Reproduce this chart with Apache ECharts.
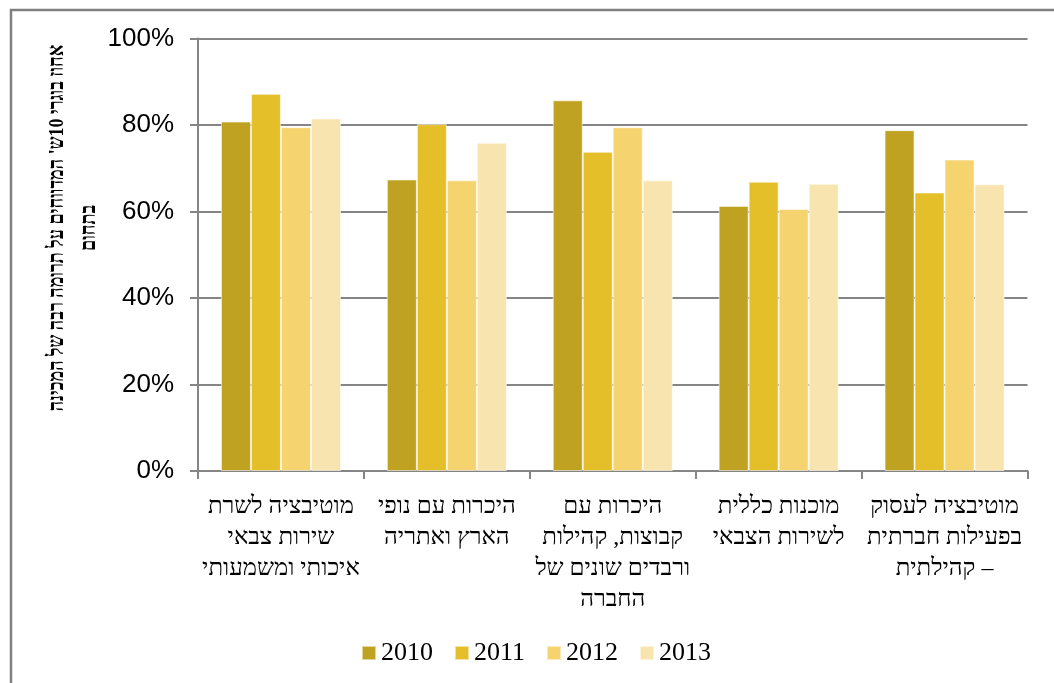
<!DOCTYPE html>
<html>
<head>
<meta charset="utf-8">
<script src="https://cdn.jsdelivr.net/npm/echarts@6/dist/echarts.min.js"></script>
<style>
html,body{margin:0;padding:0;background:#fff;}
#chart{width:1054px;height:683px;}
</style>
</head>
<body>
<div id="chart"></div>
<script>
const categories = [
  'מוטיבציה לשרת\nשירות צבאי\nאיכותי ומשמעותי',
  'היכרות עם נופי\nהארץ ואתריה',
  'היכרות עם\nקבוצות, קהילות\nורבדים שונים של\nהחברה',
  'מוכנות כללית\nלשירות הצבאי',
  'מוטיבציה לעסוק\nבפעילות חברתית\nקהילתית –'
];
const years = ['2010', '2011', '2012', '2013'];
const s2010 = [80.8, 67.4, 85.7, 61.3, 78.8];
const s2011 = [87.2, 80.2, 73.8, 66.9, 64.4];
const s2012 = [79.5, 67.2, 79.5, 60.6, 72.0];
const s2013 = [81.5, 75.9, 67.2, 66.4, 66.3];
const yMin = 0, yMax = 100, yStep = 20;
const yTitle = "אחוז בוגרי 10ש' המדווחים על תרומה רבה של המכינה\nבתחום";

const colors = ['#C0A223', '#E5BF2A', '#F5D36E', '#F8E4AE'];
const seriesData = [s2010, s2011, s2012, s2013];

const chart = echarts.init(document.getElementById('chart'), null, {renderer: 'canvas'});
const gridColor = '#858585';
chart.setOption({
  animation: false,
  backgroundColor: '#ffffff',
  color: colors,
  grid: {left: 198, right: 26.5, top: 38.5, bottom: 212, containLabel: false},
  legend: {
    data: years,
    left: 356,
    top: 635,
    icon: 'rect',
    itemWidth: 14,
    itemHeight: 14,
    itemGap: 21,
    textStyle: {fontFamily: '"Liberation Serif", "Times New Roman", serif', fontSize: 26, color: '#000'}
  },
  xAxis: {
    type: 'category',
    data: categories,
    axisLine: {lineStyle: {color: gridColor, width: 2}},
    axisTick: {show: true, length: 8, lineStyle: {color: gridColor, width: 2}},
    axisLabel: {
      interval: 0,
      margin: 20,
      fontFamily: '"Liberation Serif", "Times New Roman", serif',
      fontSize: 24,
      lineHeight: 31,
      color: '#000',
      align: 'center'
    }
  },
  yAxis: {
    type: 'value',
    min: yMin,
    max: yMax,
    interval: yStep,
    axisLine: {show: true, lineStyle: {color: gridColor, width: 2}},
    axisTick: {show: true, length: 8, lineStyle: {color: gridColor, width: 2}},
    splitLine: {show: true, lineStyle: {color: gridColor, width: 2}},
    axisLabel: {
      formatter: '{value}%',
      margin: 24,
      fontFamily: '"Liberation Sans", Arial, sans-serif',
      fontSize: 26,
      color: '#000'
    }
  },
  series: years.map((y, i) => ({
    name: y,
    type: 'bar',
    data: seriesData[i],
    barWidth: 30,
    barGap: '0%',
    itemStyle: {color: colors[i], borderColor: 'rgba(255,255,255,0.55)', borderWidth: 1}
  })),
  graphic: [
    {
      type: 'rect',
      silent: true,
      shape: {x: 11, y: 10, width: 1200, height: 900},
      style: {fill: 'none', stroke: '#808080', lineWidth: 2.5},
      z: 100
    },
    {
      type: 'text',
      x: 73,
      y: 228,
      rotation: Math.PI / 2,
      scaleX: 0.82,
      style: {
        text: yTitle,
        fontFamily: '"Liberation Serif", "Times New Roman", serif',
        fontWeight: 'bold',
        fontSize: 22,
        lineHeight: 32,
        fill: '#000',
        align: 'center',
        verticalAlign: 'middle'
      }
    }
  ]
});
</script>
</body>
</html>
